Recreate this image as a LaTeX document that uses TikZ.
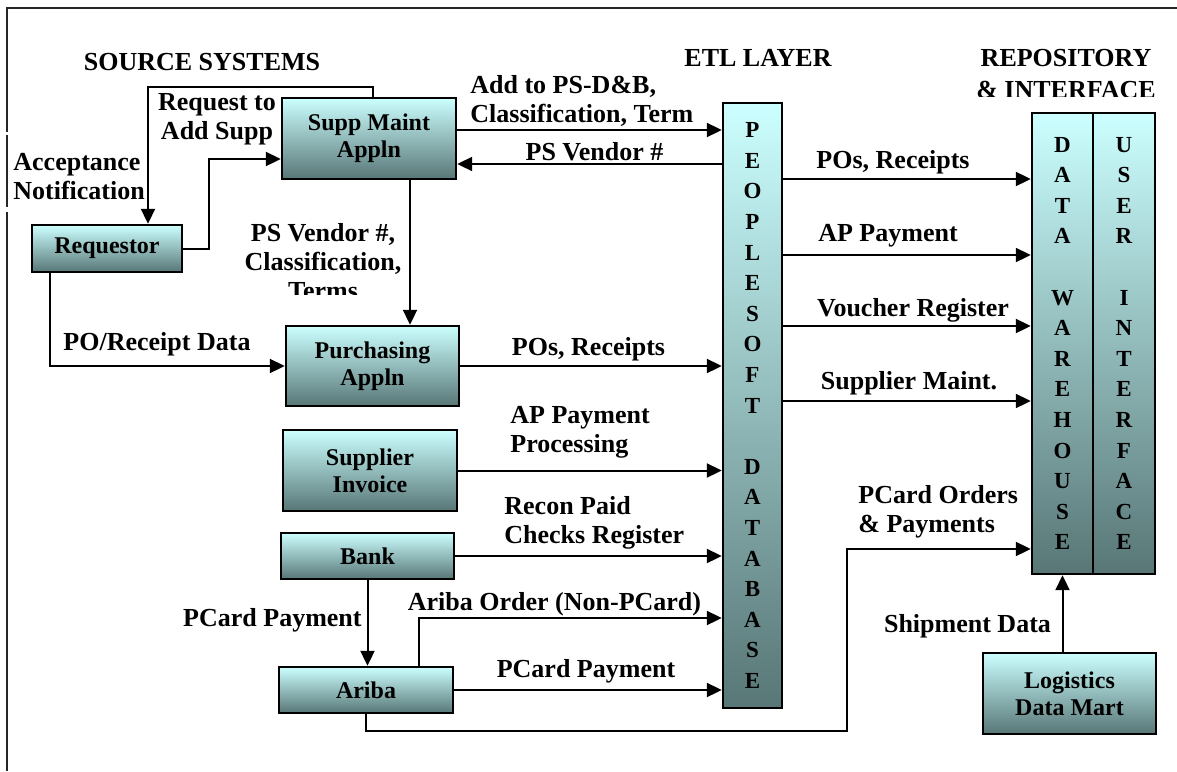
\documentclass[tikz,border=0pt]{standalone}
\usepackage{fontspec}
\setmainfont{Liberation Serif}
\usetikzlibrary{arrows.meta}
\definecolor{boxT}{RGB}{204,255,255}
\definecolor{boxB}{RGB}{88,118,118}

\begin{document}
\begin{tikzpicture}[x=0.5pt,y=-0.5pt,
  font=\bfseries\fontsize{13}{14.5}\selectfont,
  sysbox/.style={draw=black,line width=1.2pt,top color=boxT,bottom color=boxB,inner sep=0pt,align=center,font=\bfseries\fontsize{12}{13.5}\selectfont},
  colbox/.style={sysbox,font=\bfseries\fontsize{11.5}{15.3}\selectfont},
  flow/.style={line width=1pt,-{Triangle[length=7.5pt,width=7pt]}},
  lbl/.style={inner sep=0pt,align=center}]
\useasboundingbox (0,0) rectangle (1177,771);
% frame: top and left edges
\draw[line width=1pt,black!85] (1177,8) -- (7,8) -- (7,132);
\draw[line width=1pt,black!85] (7,135) -- (7,207);
\draw[line width=1pt,black!85] (7,212) -- (7,771);
% headings
\node[lbl] (hsrc) at (202,62) {SOURCE SYSTEMS};
\node[lbl] (hetl) at (758,58) {ETL LAYER};
\begin{scope}
\clip (940,30) rectangle (1177,96);
\node[lbl,font=\bfseries\fontsize{13}{16}\selectfont] (hrep) at (1066,74) {REPOSITORY\\\& INTERFACE};
\end{scope}
% source systems
\node[sysbox,minimum width=75pt,minimum height=23.5pt] (req) at (107,248.5) {Requestor};
\node[sysbox,minimum width=87pt,minimum height=40.5pt] (supp) at (369,138.5) {Supp Maint\\Appln};
\node[sysbox,minimum width=86.5pt,minimum height=40pt] (purch) at (372.5,366) {Purchasing\\Appln};
\node[sysbox,minimum width=87pt,minimum height=40.5pt] (inv) at (370,470.5) {Supplier\\Invoice};
\node[sysbox,minimum width=86.5pt,minimum height=23pt] (bank) at (367.5,556) {Bank};
\node[sysbox,minimum width=87pt,minimum height=23pt] (ariba) at (366,690) {Ariba};
\node[sysbox,minimum width=86.5pt,minimum height=40.5pt] (logi) at (1069.5,693.5) {Logistics\\Data Mart};
% columns
\node[colbox,minimum width=29.5pt,minimum height=302.5pt] (db) at (752.5,405.5) {P\\E\\O\\P\\L\\E\\S\\O\\F\\T\\\mbox{}\\D\\A\\T\\A\\B\\A\\S\\E};
\node[colbox,minimum width=30.5pt,minimum height=230.5pt] (dw) at (1062.5,343.5) {D\\A\\T\\A\\\mbox{}\\W\\A\\R\\E\\H\\O\\U\\S\\E};
\node[colbox,minimum width=31pt,minimum height=230.5pt] (ui) at (1124,343.5) {U\\S\\E\\R\\\mbox{}\\I\\N\\T\\E\\R\\F\\A\\C\\E};
% source side flows
\draw[flow] (req.east) -- ++(26,0) |- (supp.west |- 0,159);
\draw[flow] (supp.north -| 373,0) |- (148,87) -- (req.north -| 148,0);
\draw[flow] (req.south -| 50,0) |- (purch.west);
\draw[flow] (supp.south -| 410,0) -- (purch.north -| 410,0);
\draw[flow] (bank.south) -- (ariba.north -| bank.south);
% into peoplesoft
\draw[flow] (supp.east |- 0,130) -- (db.west |- 0,130);
\draw[flow] (db.west |- 0,164) -- (supp.east |- 0,164);
\draw[flow] (purch.east) -- (db.west |- purch.east);
\draw[flow] (inv.east) -- (db.west |- inv.east);
\draw[flow] (bank.east) -- (db.west |- bank.east);
\draw[flow] (ariba.north -| 419,0) |- (db.west |- 0,618);
\draw[flow] (ariba.east) -- (db.west |- ariba.east);
% into warehouse
\foreach \y in {179,255,326,401} \draw[flow] (db.east |- 0,\y) -- (dw.west |- 0,\y);
\draw[flow] (ariba.south) -- ++(0,17) -| (847,549) -- (dw.west |- 0,549);
\draw[flow] (logi.north -| dw.south) -- (dw.south);
% labels
\node[lbl] (lreq) at (217,119) {Request to\\Add Supp};
\node[lbl,anchor=west,align=left] (lacc) at (13,176.5) {Acceptance\\Notification};
\node[lbl] (lpo) at (157,344) {PO/Receipt Data};
\begin{scope}
\clip (200,200) rectangle (420,294);
\node[lbl] (lvend) at (323,262) {PS Vendor \#,\\Classification,\\Terms};
\end{scope}
\node[lbl,anchor=west,align=left] (ladd) at (470,101) {Add to PS-D\&B,\\Classification, Term};
\node[lbl] (lpsv) at (594.5,152) {PS Vendor \#};
\node[lbl] (lpos) at (588.5,349) {POs, Receipts};
\node[lbl,anchor=west,align=left] (lap) at (510,432.5) {AP Payment\\Processing};
\node[lbl,anchor=west,align=left] (lrec) at (504,522.5) {Recon Paid\\Checks Register};
\node[lbl,anchor=east] (lpcb) at (362,620) {PCard Payment};
\node[lbl] (lari) at (554.5,604) {Ariba Order (Non-PCard)};
\node[lbl] (lpca) at (586,671) {PCard Payment};
\node[lbl] (lwpo) at (893,162) {POs, Receipts};
\node[lbl] (lwap) at (888,236) {AP Payment};
\node[lbl] (lwvr) at (913,310) {Voucher Register};
\node[lbl] (lwsm) at (909,383) {Supplier Maint.};
\node[lbl,anchor=west,align=left] (lwpc) at (858,512) {PCard Orders\\\& Payments};
\node[lbl] (lship) at (967.5,626) {Shipment Data};
\end{tikzpicture}
\end{document}
